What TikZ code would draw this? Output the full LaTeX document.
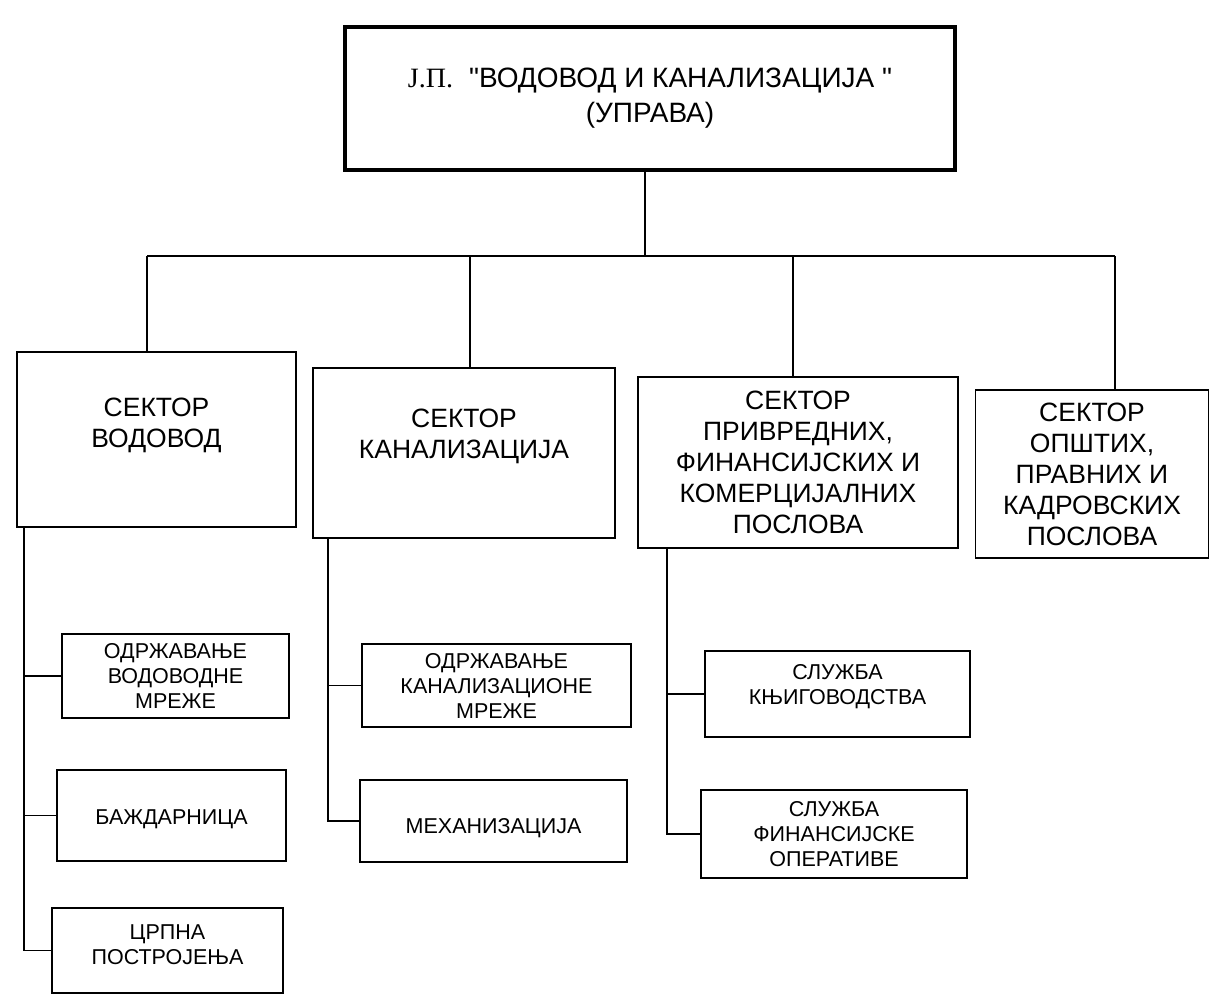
\documentclass[tikz,border=0pt]{standalone}
\usepackage{fontspec}
\setmainfont{Liberation Sans}[Ligatures=TeXOff]
\newfontfamily\serifcyr{Liberation Serif}
\usetikzlibrary{calc}
\begin{document}
\begin{tikzpicture}[x=1pt,y=-1pt,
  box/.style={draw, line width=1.8pt, rectangle, align=center, inner sep=0pt},
  topbox/.style={box, line width=4.2pt, font=\fontsize{28}{35}\selectfont},
  sector/.style={box, font=\fontsize{26.5}{31}\selectfont},
  sectortext/.style={align=center, inner sep=0pt, font=\fontsize{26.5}{31}\selectfont},
  sub/.style={box, font=\fontsize{21.5}{25}\selectfont},
  subtext/.style={align=center, inner sep=0pt, font=\fontsize{21.5}{25}\selectfont},
  conn/.style={line width=1.8pt}]
\useasboundingbox (0,0) rectangle (1212,996);
% top
\node[topbox, minimum width=610pt, minimum height=143pt] (top) at (650,98.5)
  {{\serifcyr Ј.П.}\hspace{16pt}"ВОДОВОД И КАНАЛИЗАЦИЈА "\\(УПРАВА)};
% sectors
\node[sector, minimum width=279pt, minimum height=175pt] (s1) at (156.5,439.5) {};
\node[sectortext] (s1t) at ($(s1.center)+(0,-14)$) {СЕКТОР\\ВОДОВОД};
\node[sector, minimum width=302pt, minimum height=170pt] (s2) at (464,453) {};
\node[sectortext] (s2t) at ($(s2.center)+(0,-17)$) {СЕКТОР\\КАНАЛИЗАЦИЈА};
\node[sector, minimum width=320pt, minimum height=171pt] (s3) at (798,462.5)
  {СЕКТОР\\ПРИВРЕДНИХ,\\ФИНАНСИЈСКИХ И\\КОМЕРЦИЈАЛНИХ\\ПОСЛОВА};
\node[sector, minimum width=233pt, minimum height=168pt] (s4) at (1092,474)
  {СЕКТОР\\ОПШТИХ,\\ПРАВНИХ И\\КАДРОВСКИХ\\ПОСЛОВА};
% sub units
\node[sub, minimum width=227pt, minimum height=84pt] (a1) at (175.5,676) {ОДРЖАВАЊЕ\\ВОДОВОДНЕ\\МРЕЖЕ};
\node[sub, minimum width=229pt, minimum height=91pt] (a2) at (171.5,815.5) {};
\node[subtext] (a2t) at ($(a2.center)+(0,4)$) {БАЖДАРНИЦА};
\node[sub, minimum width=231pt, minimum height=85pt] (a3) at (167.5,950.5) {};
\node[subtext] (a3t) at ($(a3.center)+(0,-6)$) {ЦРПНА\\ПОСТРОЈЕЊА};
\node[sub, minimum width=269pt, minimum height=83pt] (b1) at (496.5,685.5) {ОДРЖАВАЊЕ\\КАНАЛИЗАЦИОНЕ\\МРЕЖЕ};
\node[sub, minimum width=267pt, minimum height=82pt] (b2) at (493.5,821) {};
\node[subtext] (b2t) at ($(b2.center)+(0,7)$) {МЕХАНИЗАЦИЈА};
\node[sub, minimum width=265pt, minimum height=86pt] (c1) at (837.5,694) {};
\node[subtext] (c1t) at ($(c1.center)+(0,-7)$) {СЛУЖБА\\КЊИГОВОДСТВА};
\node[sub, minimum width=266pt, minimum height=88pt] (c2) at (834,834) {СЛУЖБА\\ФИНАНСИЈСКЕ\\ОПЕРАТИВЕ};
% bus
\coordinate (tj) at (645,256);
\coordinate (d1) at (147,256);
\coordinate (d2) at (470,256);
\coordinate (d3) at (793,256);
\coordinate (d4) at (1115,256);
\draw[conn] (tj |- top.south) -- (tj);
\draw[conn] (d1) -- (d4);
\draw[conn] (d1) -- (d1 |- s1.north);
\draw[conn] (d2) -- (d2 |- s2.north);
\draw[conn] (d3) -- (d3 |- s3.north);
\draw[conn] (d4) -- (d4 |- s4.north);
% spines
\coordinate (p1) at (24,0);
\coordinate (p2) at (328,0);
\coordinate (p3) at (667,0);
\draw[conn] (p1 |- s1.south) -- (p1 |- a3.west) -- (a3.west);
\draw[conn] (p1 |- a1.west) -- (a1.west);
\draw[conn] (p1 |- a2.west) -- (a2.west);
\draw[conn] (p2 |- s2.south) -- (p2 |- b2.west) -- (b2.west);
\draw[conn] (p2 |- b1.west) -- (b1.west);
\draw[conn] (p3 |- s3.south) -- (p3 |- c2.west) -- (c2.west);
\draw[conn] (p3 |- c1.west) -- (c1.west);
\end{tikzpicture}
\end{document}
